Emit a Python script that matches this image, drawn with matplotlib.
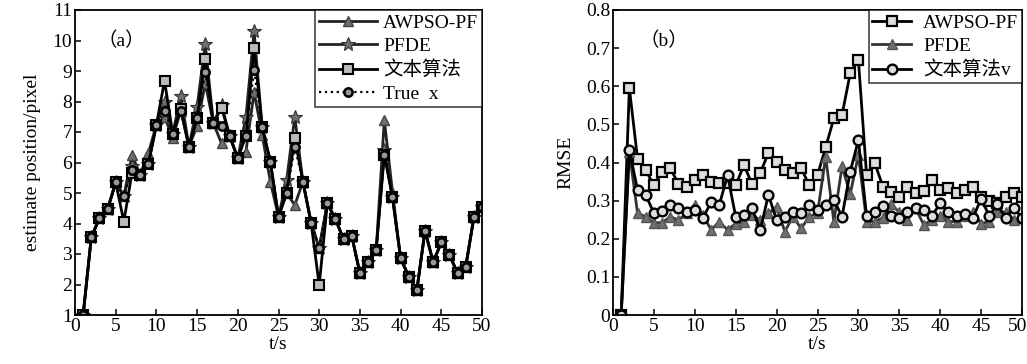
import matplotlib
matplotlib.use("Agg")
import matplotlib.pyplot as plt
import matplotlib.transforms as mtrans
from matplotlib.ticker import FuncFormatter, MultipleLocator

# ---------------- data ----------------
t = list(range(1, 51))

true_x = [1.0, 3.55, 4.17, 4.46, 5.35, 4.9, 5.75, 5.6, 5.94, 7.23,
          7.7, 6.95, 7.7, 6.52, 7.45, 8.98, 7.28, 7.2, 6.87, 6.14,
          6.87, 9.03, 7.15, 6.03, 4.22, 5.0, 6.5, 5.37, 4.03, 3.19,
          4.66, 4.14, 3.48, 3.59, 2.37, 2.75, 3.13, 6.25, 4.86, 2.86,
          2.26, 1.82, 3.77, 2.73, 3.38, 2.97, 2.37, 2.58, 4.2, 4.55]

ours_x = [1.0, 3.55, 4.17, 4.46, 5.35, 4.06, 5.67, 5.6, 5.94, 7.23,
          8.68, 6.95, 7.75, 6.52, 7.45, 9.38, 7.28, 7.8, 6.87, 6.14,
          6.87, 9.74, 7.15, 6.03, 4.22, 5.0, 6.79, 5.37, 4.03, 1.98,
          4.66, 4.14, 3.48, 3.59, 2.37, 2.75, 3.13, 6.25, 4.86, 2.86,
          2.26, 1.82, 3.77, 2.73, 3.38, 2.97, 2.37, 2.58, 4.2, 4.55]

pfde_x = [1.0, 3.55, 4.17, 4.46, 5.35, 4.9, 5.9, 5.6, 5.94, 7.23,
          8.0, 6.95, 8.18, 6.52, 7.83, 9.9, 7.28, 7.9, 6.87, 6.14,
          7.5, 10.3, 7.15, 6.03, 4.22, 5.43, 7.5, 5.37, 4.03, 3.19,
          4.66, 4.14, 3.48, 3.59, 2.37, 2.75, 3.13, 6.4, 4.86, 2.86,
          2.26, 1.82, 3.77, 2.73, 3.38, 2.97, 2.37, 2.58, 4.2, 4.55]

awpso_x = [1.0, 3.55, 4.17, 4.46, 5.35, 4.9, 6.25, 5.6, 6.3, 7.23,
           7.5, 6.8, 7.7, 6.52, 7.2, 8.6, 7.28, 6.63, 6.87, 6.14,
           6.36, 8.3, 6.9, 5.37, 4.22, 5.0, 4.6, 5.37, 4.03, 3.19,
           4.66, 4.14, 3.48, 3.59, 2.37, 2.75, 3.13, 7.39, 5.04, 2.86,
           2.26, 1.82, 3.77, 2.73, 3.38, 2.97, 2.37, 2.58, 4.2, 4.55]

awpso_rmse = [0.0, 0.595, 0.41, 0.38, 0.34, 0.376, 0.385, 0.344, 0.337, 0.354,
              0.367, 0.35, 0.345, 0.345, 0.34, 0.393, 0.344, 0.372, 0.426, 0.402,
              0.38, 0.372, 0.385, 0.34, 0.367, 0.44, 0.516, 0.525, 0.634, 0.669,
              0.367, 0.398, 0.337, 0.323, 0.31, 0.337, 0.32, 0.325, 0.354, 0.328,
              0.332, 0.319, 0.328, 0.337, 0.31, 0.30, 0.293, 0.31, 0.319, 0.31]

pfde_rmse = [0.0, 0.428, 0.267, 0.258, 0.242, 0.242, 0.258, 0.249, 0.267, 0.289,
             0.262, 0.223, 0.245, 0.223, 0.24, 0.245, 0.262, 0.249, 0.267, 0.284,
             0.219, 0.258, 0.227, 0.258, 0.267, 0.415, 0.245, 0.39, 0.317, 0.42,
             0.245, 0.245, 0.255, 0.29, 0.27, 0.25, 0.28, 0.236, 0.25, 0.26,
             0.245, 0.245, 0.26, 0.27, 0.24, 0.245, 0.27, 0.27, 0.25, 0.255]

ours_rmse = [0.0, 0.433, 0.328, 0.315, 0.267, 0.274, 0.289, 0.28, 0.271, 0.275,
             0.254, 0.297, 0.289, 0.367, 0.258, 0.262, 0.28, 0.223, 0.315, 0.249,
             0.258, 0.271, 0.267, 0.289, 0.275, 0.289, 0.302, 0.258, 0.376, 0.459,
             0.26, 0.27, 0.285, 0.26, 0.255, 0.27, 0.28, 0.275, 0.26, 0.293,
             0.27, 0.26, 0.265, 0.255, 0.305, 0.26, 0.29, 0.255, 0.28, 0.255]

labels_a = ["AWPSO-PF", "PFDE", "文本算法", "True  x"]
labels_b = ["AWPSO-PF", "PFDE", "文本算法v"]
xticks = [0, 5, 10, 15, 20, 25, 30, 35, 40, 45, 50]

# ---------------- style ----------------
FONT = ["Liberation Serif", "Noto Sans CJK SC"]
plt.rcParams["font.family"] = FONT
plt.rcParams["font.size"] = 14
plt.rcParams["axes.linewidth"] = 1.3
plt.rcParams["xtick.direction"] = "in"
plt.rcParams["ytick.direction"] = "in"

fig = plt.figure(figsize=(10.27, 3.64), dpi=100)
fig.patch.set_facecolor("white")
axa = fig.add_axes([75 / 1027, 49 / 364, 407 / 1027, 305 / 364])
axb = fig.add_axes([613 / 1027, 49 / 364, 409 / 1027, 305 / 364])

GRAY = "#6e6e6e"
LW = 2.0

# ---------------- panel (a) ----------------
axa.plot(t, awpso_x, color="#222222", lw=LW, marker="^", ms=7,
         mfc=GRAY, mec="#444444", mew=1.0, label=labels_a[0])
axa.plot(t, pfde_x, color="#222222", lw=LW, marker="*", ms=10,
         mfc=GRAY, mec="#333333", mew=0.8, label=labels_a[1])
axa.plot(t, ours_x, color="black", lw=LW, marker="s", ms=6.5,
         mfc="#bbbbbb", mec="black", mew=1.5, label=labels_a[2])
axa.plot(t, true_x, color="black", lw=1.6, ls=":", marker="o", ms=6,
         mfc="#999999", mec="black", mew=1.8, label=labels_a[3])

axa.set_xlim(0, 50)
axa.set_ylim(1, 11)
axa.set_xticks(xticks)
axa.yaxis.set_major_locator(MultipleLocator(1))
axa.tick_params(top=False, right=False, length=4, width=1.1, pad=2)
axa.set_xlabel("t/s", labelpad=1)
axa.set_ylabel("estimate position/pixel", labelpad=8)
axa.text(0.055, 0.93, "（a）", transform=axa.transAxes, fontsize=14,
         va="top", ha="left", family=FONT)
lga = axa.legend(loc="upper right", frameon=True, fancybox=False,
                 edgecolor="black", borderpad=0.2, labelspacing=0.3,
                 handlelength=3.0, handletextpad=0.3, borderaxespad=0.0,
                 prop={"family": FONT, "size": 14})
lga.get_frame().set_linewidth(1.1)

# ---------------- panel (b) ----------------
axb.plot(t, awpso_rmse, color="black", lw=LW, marker="s", ms=7,
         mfc="#dddddd", mec="black", mew=1.6, label=labels_b[0])
axb.plot(t, pfde_rmse, color="#333333", lw=LW, marker="^", ms=7.5,
         mfc=GRAY, mec="#555555", mew=1.0, label=labels_b[1])
axb.plot(t, ours_rmse, color="black", lw=LW, marker="o", ms=7,
         mfc="#dddddd", mec="black", mew=1.7, label=labels_b[2])

axb.set_xlim(0, 50)
axb.set_ylim(0, 0.8)
axb.set_xticks(xticks)
axb.yaxis.set_major_locator(MultipleLocator(0.1))
axb.yaxis.set_major_formatter(FuncFormatter(lambda v, p: f"{v:.1f}" if v > 1e-9 else "0"))
axb.tick_params(top=False, right=False, length=4, width=1.1, pad=2)
axb.set_xlabel("t/s", labelpad=1)
axb.set_ylabel("RMSE", labelpad=8)
axb.text(0.065, 0.93, "（b）", transform=axb.transAxes, fontsize=14,
         va="top", ha="left", family=FONT)
lgb = axb.legend(loc="upper right", frameon=True, fancybox=False,
                 edgecolor="black", borderpad=0.2, labelspacing=0.3,
                 handlelength=2.0, handletextpad=0.6, borderaxespad=0.0,
                 prop={"family": FONT, "size": 14})
lgb.get_frame().set_linewidth(1.1)

# keep last tick label of (b) inside the figure
for tk in axb.xaxis.get_major_ticks():
    pass
last_tick = axb.xaxis.get_major_ticks()[-1]
last_tick.label1.set_horizontalalignment("right")
last_tick.label1.set_transform(last_tick.label1.get_transform() +
                               mtrans.ScaledTranslation(5 / 100, 0, fig.dpi_scale_trans))

fig.savefig("out.png", dpi=100, facecolor="white")
